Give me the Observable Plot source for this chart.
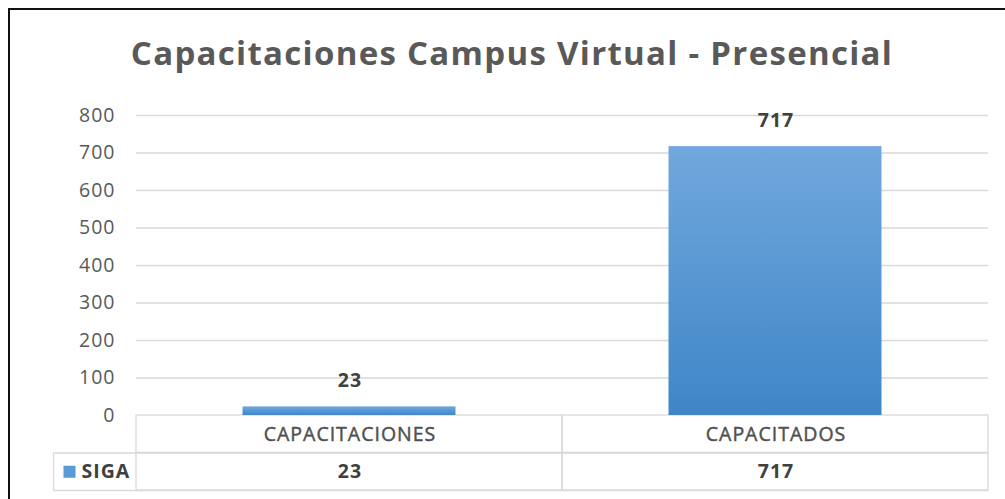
<!DOCTYPE html>
<html>
<head>
<meta charset="utf-8">
<script src="https://cdn.jsdelivr.net/npm/d3@7"></script>
<script src="https://cdn.jsdelivr.net/npm/@observablehq/plot@0.6"></script>
<style>
  html, body { margin: 0; padding: 0; width: 1005px; height: 499px; overflow: hidden; background: #fff; }
  #frame { position: absolute; left: 8px; top: 8px; width: 1200px; height: 700px; border: 2.5px solid #111; box-sizing: border-box; }
  #title { position: absolute; left: 0; width: 1024px; top: 31px; text-align: center; font-family: "Open Sans", Lato, sans-serif; font-weight: 700; font-size: 33px; letter-spacing: 1.3px; color: #595959; white-space: nowrap; line-height: 44px; }
  #chart { position: absolute; left: 0; top: 100px; }
  #chart svg text { letter-spacing: 1px; }
</style>
</head>
<body>
<div id="frame"></div>
<div id="title"></div>
<div id="chart"></div>
<script>
const titleText = "Capacitaciones Campus Virtual - Presencial";
const categories = ["CAPACITACIONES", "CAPACITADOS"];
const seriesName = "SIGA";
const values = [23, 717];
const yTicks = [0, 100, 200, 300, 400, 500, 600, 700, 800];

const data = categories.map((c, i) => ({cat: c, value: values[i]}));

const W = 1005, H = 399;
const mL = 136, mR = 17, mT = 15, mB = 9;
const band = (W - mL - mR) / categories.length;
const font = "'Open Sans', Lato, sans-serif";
const fs = 19.5;

function defs() {
  const ns = "http://www.w3.org/2000/svg";
  const d = document.createElementNS(ns, "defs");
  const g = document.createElementNS(ns, "linearGradient");
  g.setAttribute("id", "barGrad");
  g.setAttribute("x1", "0"); g.setAttribute("y1", "0");
  g.setAttribute("x2", "0"); g.setAttribute("y2", "1");
  [["0%", "#71a8dd"], ["100%", "#3f86c7"]].forEach(([o, c]) => {
    const s = document.createElementNS(ns, "stop");
    s.setAttribute("offset", o); s.setAttribute("stop-color", c);
    g.appendChild(s);
  });
  d.appendChild(g);
  return d;
}

const firstCenter = band / 2;

const plot = Plot.plot({
  width: W, height: H,
  marginLeft: mL, marginRight: mR, marginTop: mT, marginBottom: mB,
  style: {fontFamily: font, color: "#595959", background: "transparent", overflow: "visible"},
  x: {domain: categories, padding: 0, axis: null},
  y: {domain: [-200, 800], axis: null},
  marks: [
    defs,
    Plot.gridY(yTicks.filter(t => t > 0), {stroke: "#d9d9d9", strokeOpacity: 1, strokeWidth: 1.3}),
    Plot.axisY(yTicks, {label: null, tickSize: 0, tickPadding: 21, fontSize: fs, fill: "#595959", textAnchor: "end"}),
    Plot.barY(data, {x: "cat", y1: -100, y2: 0, fill: "none", stroke: "#d9d9d9", strokeWidth: 1.3}),
    Plot.barY(data, {x: "cat", y1: -200, y2: -100, fill: "none", stroke: "#d9d9d9", strokeWidth: 1.3}),
    Plot.ruleY([-100, -200], {stroke: "#d9d9d9", strokeWidth: 1.3, insetLeft: -83}),
    Plot.ruleX([categories[0]], {y1: -200, y2: -100, stroke: "#d9d9d9", strokeWidth: 1.3, dx: -(firstCenter + 83)}),
    Plot.barY(data, {x: "cat", y: "value", fill: "url(#barGrad)", insetLeft: band / 4, insetRight: band / 4}),
    Plot.text(data, {x: "cat", y: "value", text: d => String(d.value), dy: -26, dx: 0.5, fontSize: fs, fontWeight: "bold", fill: "#404040"}),
    Plot.text(data, {x: "cat", y: -50, text: "cat", dx: 0.5, fontSize: fs, fill: "#505050", stroke: "#505050", strokeWidth: 0.45}),
    Plot.text(data, {x: "cat", y: -150, text: d => String(d.value), dx: 0.5, fontSize: fs, fontWeight: "bold", fill: "#404040"}),
    Plot.dot([seriesName], {x: () => categories[0], y: -150, symbol: "square", r: 6.8, fill: "#5b9bd5", dx: 69 - (mL + firstCenter)}),
    Plot.text([seriesName], {x: () => categories[0], y: -150, text: d => d, textAnchor: "start", dx: 81 - (mL + firstCenter), fontSize: fs, fontWeight: "bold", fill: "#404040", style: "letter-spacing:0"})
  ]
});
document.getElementById("chart").appendChild(plot);
document.getElementById("title").textContent = titleText;
</script>
</body>
</html>
